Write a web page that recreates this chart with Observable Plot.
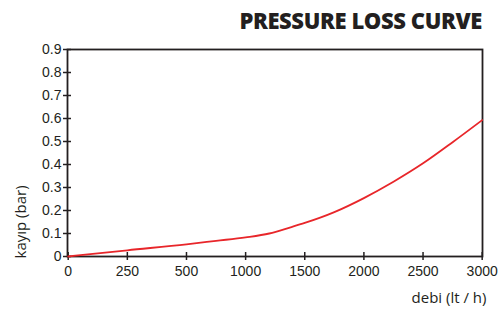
<!DOCTYPE html>
<html>
<head>
<meta charset="utf-8">
<script src="https://cdn.jsdelivr.net/npm/d3@7"></script>
<script src="https://cdn.jsdelivr.net/npm/@observablehq/plot@0.6"></script>
<style>
  html, body { margin: 0; padding: 0; background: #fff; }
  #wrap { width: 503px; height: 309px; position: relative; overflow: hidden; }
  #title { height: 40px; box-sizing: border-box; padding-right: 21px; text-align: right;
    font-family: "Open Sans", sans-serif; font-weight: 800; font-size: 22px; color: #231f20;
    line-height: 40px; letter-spacing: -0.4px; }
</style>
</head>
<body>
<div id="wrap">
  <div id="title">PRESSURE LOSS CURVE</div>
  <div id="chart"></div>
</div>
<script>
const titleText = "PRESSURE LOSS CURVE";
const xLabel = "debi (lt / h)";
const yLabel = "kayıp (bar)";
const xTicks = [0, 250, 500, 1000, 1500, 2000, 2500, 3000];
const yTicks = [0, 0.1, 0.2, 0.3, 0.4, 0.5, 0.6, 0.7, 0.8, 0.9];
const debi =  [0, 250, 500, 750, 1000, 1200, 1380, 1500, 1750, 2000, 2250, 2500, 2750, 3000];
const kayip = [0, 0.027, 0.053, 0.068, 0.083, 0.100, 0.127, 0.146, 0.193, 0.254, 0.325, 0.405, 0.497, 0.593];

const data = debi.map((d, i) => ({debi: d, kayip: kayip[i]}));
const left = 67.7, step = 59.14;

const chart = Plot.plot({
  width: 503,
  height: 269,
  marginTop: 9,
  marginBottom: 53,
  marginLeft: 67,
  marginRight: 21,
  style: {fontFamily: "'Liberation Sans', Arial, sans-serif", fontSize: "14px", color: "#231f20", background: "#fff"},
  x: {type: "linear", domain: xTicks, range: xTicks.map((_, i) => left + i * step)},
  y: {domain: [0, 0.9]},
  marks: [
    Plot.frame({stroke: "#231f20", strokeWidth: 1.8}),
    Plot.axisX({ticks: xTicks, tickSize: 8, dy: -4, tickPadding: 6, tickFormat: d => String(d), label: null, stroke: "#231f20", strokeWidth: 1.5}),
    Plot.axisY({ticks: yTicks, tickSize: 8, dx: 4, tickPadding: 2, tickFormat: d => d === 0 ? "0" : d3.format(".1f")(d), label: null, stroke: "#231f20", strokeWidth: 1.5}),
    Plot.line(data, {x: "debi", y: "kayip", stroke: "#e8262a", strokeWidth: 1.8, curve: "monotone-x"}),
    Plot.text([xLabel], {frameAnchor: "bottom-right", dx: 4, dy: 46, textAnchor: "end", fontSize: 15, fontFamily: "'Open Sans', sans-serif", fill: "#231f20"}),
    Plot.text([yLabel], {frameAnchor: "bottom-left", dx: -42, dy: 2, rotate: -90, textAnchor: "start", fontSize: 15, fontFamily: "'Open Sans', sans-serif", fill: "#231f20"})
  ]
});
document.getElementById("chart").appendChild(chart);
</script>
</body>
</html>
